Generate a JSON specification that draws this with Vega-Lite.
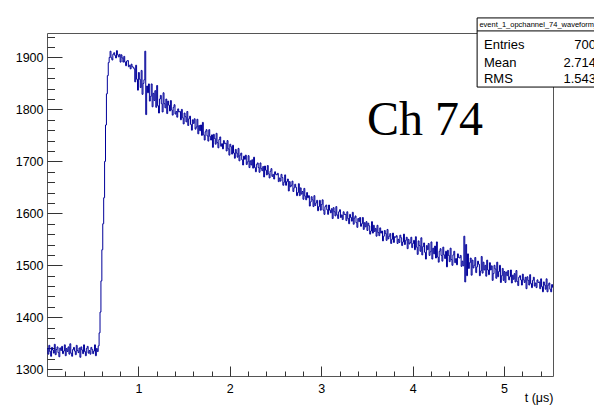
{
"$schema": "https://vega.github.io/schema/vega-lite/v6.json",
"width": 506, "height": 343,
"autosize": "none",
"padding": {"left": 47, "top": 33, "right": 41, "bottom": 31},
"background": "white",
"config": {"view": {"stroke": "#555555", "strokeWidth": 1}, "font": "Liberation Sans"},
"data": {"values": [
{"t":0.00,"v":1340},{"t":0.01,"v":1329},{"t":0.02,"v":1346},{"t":0.03,"v":1334},{"t":0.04,"v":1325},{"t":0.05,"v":1342},{"t":0.06,"v":1337},{"t":0.07,"v":1331},{"t":0.08,"v":1348},{"t":0.09,"v":1328},
{"t":0.10,"v":1338},{"t":0.11,"v":1343},{"t":0.12,"v":1332},{"t":0.13,"v":1324},{"t":0.14,"v":1341},{"t":0.15,"v":1336},{"t":0.16,"v":1344},{"t":0.17,"v":1330},{"t":0.18,"v":1335},{"t":0.19,"v":1347},
{"t":0.20,"v":1326},{"t":0.21,"v":1340},{"t":0.22,"v":1334},{"t":0.23,"v":1343},{"t":0.24,"v":1329},{"t":0.25,"v":1349},{"t":0.26,"v":1331},{"t":0.27,"v":1325},{"t":0.28,"v":1338},{"t":0.29,"v":1342},
{"t":0.30,"v":1335},{"t":0.31,"v":1328},{"t":0.32,"v":1346},{"t":0.33,"v":1336},{"t":0.34,"v":1332},{"t":0.35,"v":1341},{"t":0.36,"v":1323},{"t":0.37,"v":1343},{"t":0.38,"v":1337},{"t":0.39,"v":1330},
{"t":0.40,"v":1347},{"t":0.41,"v":1334},{"t":0.42,"v":1326},{"t":0.43,"v":1340},{"t":0.44,"v":1344},{"t":0.45,"v":1331},{"t":0.46,"v":1336},{"t":0.47,"v":1329},{"t":0.48,"v":1342},{"t":0.49,"v":1338},
{"t":0.50,"v":1330},{"t":0.51,"v":1335},{"t":0.52,"v":1347},{"t":0.53,"v":1326},{"t":0.54,"v":1340},{"t":0.55,"v":1334},{"t":0.56,"v":1345},{"t":0.57,"v":1370},{"t":0.58,"v":1410},{"t":0.59,"v":1470},
{"t":0.60,"v":1530},{"t":0.61,"v":1580},{"t":0.62,"v":1630},{"t":0.63,"v":1700},{"t":0.64,"v":1770},{"t":0.65,"v":1830},{"t":0.66,"v":1865},{"t":0.67,"v":1890},{"t":0.68,"v":1900},{"t":0.69,"v":1912},
{"t":0.70,"v":1899},{"t":0.71,"v":1895},{"t":0.72,"v":1906},{"t":0.73,"v":1909},{"t":0.74,"v":1904},{"t":0.75,"v":1899},{"t":0.76,"v":1913},{"t":0.77,"v":1905},{"t":0.78,"v":1901},{"t":0.79,"v":1906},
{"t":0.80,"v":1891},{"t":0.81,"v":1905},{"t":0.82,"v":1899},{"t":0.83,"v":1891},{"t":0.84,"v":1902},{"t":0.85,"v":1891},{"t":0.86,"v":1884},{"t":0.87,"v":1893},{"t":0.88,"v":1894},{"t":0.89,"v":1882},
{"t":0.90,"v":1885},{"t":0.91,"v":1878},{"t":0.92,"v":1887},{"t":0.93,"v":1882},{"t":0.94,"v":1881},{"t":0.95,"v":1878},{"t":0.96,"v":1853},{"t":0.97,"v":1885},{"t":0.98,"v":1858},{"t":0.99,"v":1837},
{"t":1.00,"v":1871},{"t":1.01,"v":1858},{"t":1.02,"v":1842},{"t":1.03,"v":1875},{"t":1.04,"v":1829},{"t":1.05,"v":1850},{"t":1.06,"v":1857},{"t":1.07,"v":1912},{"t":1.08,"v":1790},{"t":1.09,"v":1845},
{"t":1.10,"v":1832},{"t":1.11,"v":1849},{"t":1.12,"v":1816},{"t":1.13,"v":1825},{"t":1.14,"v":1849},{"t":1.15,"v":1805},{"t":1.16,"v":1831},{"t":1.17,"v":1817},{"t":1.18,"v":1836},{"t":1.19,"v":1804},
{"t":1.20,"v":1846},{"t":1.21,"v":1807},{"t":1.22,"v":1793},{"t":1.23,"v":1820},{"t":1.24,"v":1827},{"t":1.25,"v":1811},{"t":1.26,"v":1795},{"t":1.27,"v":1832},{"t":1.28,"v":1811},{"t":1.29,"v":1803},
{"t":1.30,"v":1820},{"t":1.31,"v":1792},{"t":1.32,"v":1816},{"t":1.33,"v":1808},{"t":1.34,"v":1797},{"t":1.35,"v":1817},{"t":1.36,"v":1799},{"t":1.37,"v":1789},{"t":1.38,"v":1804},{"t":1.39,"v":1809},
{"t":1.40,"v":1791},{"t":1.41,"v":1796},{"t":1.42,"v":1785},{"t":1.43,"v":1801},{"t":1.44,"v":1795},{"t":1.45,"v":1796},{"t":1.46,"v":1780},{"t":1.47,"v":1800},{"t":1.48,"v":1784},{"t":1.49,"v":1772},
{"t":1.50,"v":1793},{"t":1.51,"v":1786},{"t":1.52,"v":1776},{"t":1.53,"v":1796},{"t":1.54,"v":1769},{"t":1.55,"v":1782},{"t":1.56,"v":1787},{"t":1.57,"v":1771},{"t":1.58,"v":1760},{"t":1.59,"v":1780},
{"t":1.60,"v":1773},{"t":1.61,"v":1782},{"t":1.62,"v":1762},{"t":1.63,"v":1766},{"t":1.64,"v":1781},{"t":1.65,"v":1753},{"t":1.66,"v":1769},{"t":1.67,"v":1759},{"t":1.68,"v":1770},{"t":1.69,"v":1750},
{"t":1.70,"v":1775},{"t":1.71,"v":1751},{"t":1.72,"v":1741},{"t":1.73,"v":1757},{"t":1.74,"v":1761},{"t":1.75,"v":1749},{"t":1.76,"v":1739},{"t":1.77,"v":1761},{"t":1.78,"v":1748},{"t":1.79,"v":1741},
{"t":1.80,"v":1751},{"t":1.81,"v":1727},{"t":1.82,"v":1752},{"t":1.83,"v":1744},{"t":1.84,"v":1733},{"t":1.85,"v":1754},{"t":1.86,"v":1736},{"t":1.87,"v":1726},{"t":1.88,"v":1742},{"t":1.89,"v":1747},
{"t":1.90,"v":1729},{"t":1.91,"v":1734},{"t":1.92,"v":1724},{"t":1.93,"v":1740},{"t":1.94,"v":1734},{"t":1.95,"v":1735},{"t":1.96,"v":1720},{"t":1.97,"v":1740},{"t":1.98,"v":1724},{"t":1.99,"v":1712},
{"t":2.00,"v":1733},{"t":2.01,"v":1728},{"t":2.02,"v":1714},{"t":2.03,"v":1731},{"t":2.04,"v":1716},{"t":2.05,"v":1706},{"t":2.06,"v":1723},{"t":2.07,"v":1716},{"t":2.08,"v":1708},{"t":2.09,"v":1725},
{"t":2.10,"v":1701},{"t":2.11,"v":1712},{"t":2.12,"v":1716},{"t":2.13,"v":1703},{"t":2.14,"v":1693},{"t":2.15,"v":1710},{"t":2.16,"v":1704},{"t":2.17,"v":1712},{"t":2.18,"v":1694},{"t":2.19,"v":1699},
{"t":2.20,"v":1711},{"t":2.21,"v":1688},{"t":2.22,"v":1701},{"t":2.23,"v":1693},{"t":2.24,"v":1703},{"t":2.25,"v":1687},{"t":2.26,"v":1708},{"t":2.27,"v":1688},{"t":2.28,"v":1680},{"t":2.29,"v":1694},
{"t":2.30,"v":1697},{"t":2.31,"v":1688},{"t":2.32,"v":1679},{"t":2.33,"v":1697},{"t":2.34,"v":1686},{"t":2.35,"v":1682},{"t":2.36,"v":1690},{"t":2.37,"v":1670},{"t":2.38,"v":1691},{"t":2.39,"v":1683},
{"t":2.40,"v":1674},{"t":2.41,"v":1692},{"t":2.42,"v":1676},{"t":2.43,"v":1668},{"t":2.44,"v":1681},{"t":2.45,"v":1686},{"t":2.46,"v":1671},{"t":2.47,"v":1675},{"t":2.48,"v":1666},{"t":2.49,"v":1680},
{"t":2.50,"v":1675},{"t":2.51,"v":1674},{"t":2.52,"v":1677},{"t":2.53,"v":1661},{"t":2.54,"v":1668},{"t":2.55,"v":1662},{"t":2.56,"v":1675},{"t":2.57,"v":1669},{"t":2.58,"v":1654},{"t":2.59,"v":1660},
{"t":2.60,"v":1674},{"t":2.61,"v":1654},{"t":2.62,"v":1661},{"t":2.63,"v":1666},{"t":2.64,"v":1643},{"t":2.65,"v":1661},{"t":2.66,"v":1651},{"t":2.67,"v":1654},{"t":2.68,"v":1662},{"t":2.69,"v":1642},
{"t":2.70,"v":1649},{"t":2.71,"v":1656},{"t":2.72,"v":1650},{"t":2.73,"v":1634},{"t":2.74,"v":1640},{"t":2.75,"v":1657},{"t":2.76,"v":1634},{"t":2.77,"v":1649},{"t":2.78,"v":1637},{"t":2.79,"v":1642},
{"t":2.80,"v":1627},{"t":2.81,"v":1648},{"t":2.82,"v":1633},{"t":2.83,"v":1626},{"t":2.84,"v":1640},{"t":2.85,"v":1630},{"t":2.86,"v":1634},{"t":2.87,"v":1614},{"t":2.88,"v":1622},{"t":2.89,"v":1632},
{"t":2.90,"v":1626},{"t":2.91,"v":1613},{"t":2.92,"v":1634},{"t":2.93,"v":1615},{"t":2.94,"v":1620},{"t":2.95,"v":1625},{"t":2.96,"v":1605},{"t":2.97,"v":1613},{"t":2.98,"v":1625},{"t":2.99,"v":1606},
{"t":3.00,"v":1617},{"t":3.01,"v":1626},{"t":3.02,"v":1606},{"t":3.03,"v":1598},{"t":3.04,"v":1613},{"t":3.05,"v":1616},{"t":3.06,"v":1607},{"t":3.07,"v":1598},{"t":3.08,"v":1616},{"t":3.09,"v":1606},
{"t":3.10,"v":1601},{"t":3.11,"v":1609},{"t":3.12,"v":1590},{"t":3.13,"v":1611},{"t":3.14,"v":1603},{"t":3.15,"v":1595},{"t":3.16,"v":1613},{"t":3.17,"v":1597},{"t":3.18,"v":1590},{"t":3.19,"v":1603},
{"t":3.20,"v":1607},{"t":3.21,"v":1592},{"t":3.22,"v":1597},{"t":3.23,"v":1588},{"t":3.24,"v":1603},{"t":3.25,"v":1598},{"t":3.26,"v":1598},{"t":3.27,"v":1586},{"t":3.28,"v":1603},{"t":3.29,"v":1590},
{"t":3.30,"v":1580},{"t":3.31,"v":1598},{"t":3.32,"v":1592},{"t":3.33,"v":1585},{"t":3.34,"v":1602},{"t":3.35,"v":1579},{"t":3.36,"v":1591},{"t":3.37,"v":1595},{"t":3.38,"v":1582},{"t":3.39,"v":1573},
{"t":3.40,"v":1590},{"t":3.41,"v":1584},{"t":3.42,"v":1592},{"t":3.43,"v":1575},{"t":3.44,"v":1580},{"t":3.45,"v":1592},{"t":3.46,"v":1569},{"t":3.47,"v":1582},{"t":3.48,"v":1574},{"t":3.49,"v":1584},
{"t":3.50,"v":1567},{"t":3.51,"v":1581},{"t":3.52,"v":1576},{"t":3.53,"v":1560},{"t":3.54,"v":1566},{"t":3.55,"v":1584},{"t":3.56,"v":1562},{"t":3.57,"v":1577},{"t":3.58,"v":1565},{"t":3.59,"v":1571},
{"t":3.60,"v":1556},{"t":3.61,"v":1577},{"t":3.62,"v":1563},{"t":3.63,"v":1557},{"t":3.64,"v":1572},{"t":3.65,"v":1562},{"t":3.66,"v":1566},{"t":3.67,"v":1547},{"t":3.68,"v":1556},{"t":3.69,"v":1567},
{"t":3.70,"v":1561},{"t":3.71,"v":1548},{"t":3.72,"v":1569},{"t":3.73,"v":1551},{"t":3.74,"v":1556},{"t":3.75,"v":1561},{"t":3.76,"v":1542},{"t":3.77,"v":1550},{"t":3.78,"v":1562},{"t":3.79,"v":1544},
{"t":3.80,"v":1555},{"t":3.81,"v":1554},{"t":3.82,"v":1557},{"t":3.83,"v":1542},{"t":3.84,"v":1550},{"t":3.85,"v":1544},{"t":3.86,"v":1558},{"t":3.87,"v":1553},{"t":3.88,"v":1538},{"t":3.89,"v":1545},
{"t":3.90,"v":1560},{"t":3.91,"v":1540},{"t":3.92,"v":1548},{"t":3.93,"v":1554},{"t":3.94,"v":1532},{"t":3.95,"v":1550},{"t":3.96,"v":1541},{"t":3.97,"v":1544},{"t":3.98,"v":1554},{"t":3.99,"v":1534},
{"t":4.00,"v":1542},{"t":4.01,"v":1548},{"t":4.02,"v":1530},{"t":4.03,"v":1555},{"t":4.04,"v":1535},{"t":4.05,"v":1521},{"t":4.06,"v":1547},{"t":4.07,"v":1538},{"t":4.08,"v":1527},{"t":4.09,"v":1553},
{"t":4.10,"v":1520},{"t":4.11,"v":1536},{"t":4.12,"v":1543},{"t":4.13,"v":1525},{"t":4.14,"v":1512},{"t":4.15,"v":1538},{"t":4.16,"v":1530},{"t":4.17,"v":1542},{"t":4.18,"v":1519},{"t":4.19,"v":1526},
{"t":4.20,"v":1545},{"t":4.21,"v":1512},{"t":4.22,"v":1533},{"t":4.23,"v":1522},{"t":4.24,"v":1537},{"t":4.25,"v":1514},{"t":4.26,"v":1545},{"t":4.27,"v":1516},{"t":4.28,"v":1506},{"t":4.29,"v":1527},
{"t":4.30,"v":1532},{"t":4.31,"v":1519},{"t":4.32,"v":1508},{"t":4.33,"v":1535},{"t":4.34,"v":1520},{"t":4.35,"v":1513},{"t":4.36,"v":1527},{"t":4.37,"v":1497},{"t":4.38,"v":1529},{"t":4.39,"v":1519},
{"t":4.40,"v":1507},{"t":4.41,"v":1533},{"t":4.42,"v":1511},{"t":4.43,"v":1500},{"t":4.44,"v":1520},{"t":4.45,"v":1527},{"t":4.46,"v":1505},{"t":4.47,"v":1513},{"t":4.48,"v":1501},{"t":4.49,"v":1522},
{"t":4.50,"v":1515},{"t":4.51,"v":1514},{"t":4.52,"v":1519},{"t":4.53,"v":1498},{"t":4.54,"v":1508},{"t":4.55,"v":1499},{"t":4.56,"v":1556},{"t":4.57,"v":1468},{"t":4.58,"v":1540},{"t":4.59,"v":1480},
{"t":4.60,"v":1522},{"t":4.61,"v":1494},{"t":4.62,"v":1505},{"t":4.63,"v":1514},{"t":4.64,"v":1481},{"t":4.65,"v":1510},{"t":4.66,"v":1495},{"t":4.67,"v":1500},{"t":4.68,"v":1515},{"t":4.69,"v":1486},
{"t":4.70,"v":1497},{"t":4.71,"v":1508},{"t":4.72,"v":1502},{"t":4.73,"v":1480},{"t":4.74,"v":1489},{"t":4.75,"v":1517},{"t":4.76,"v":1485},{"t":4.77,"v":1506},{"t":4.78,"v":1491},{"t":4.79,"v":1500},
{"t":4.80,"v":1479},{"t":4.81,"v":1510},{"t":4.82,"v":1491},{"t":4.83,"v":1482},{"t":4.84,"v":1505},{"t":4.85,"v":1491},{"t":4.86,"v":1499},{"t":4.87,"v":1471},{"t":4.88,"v":1484},{"t":4.89,"v":1500},
{"t":4.90,"v":1493},{"t":4.91,"v":1475},{"t":4.92,"v":1506},{"t":4.93,"v":1478},{"t":4.94,"v":1488},{"t":4.95,"v":1500},{"t":4.96,"v":1467},{"t":4.97,"v":1480},{"t":4.98,"v":1494},{"t":4.99,"v":1471},
{"t":5.00,"v":1488},{"t":5.01,"v":1467},{"t":5.02,"v":1487},{"t":5.03,"v":1480},{"t":5.04,"v":1490},{"t":5.05,"v":1472},{"t":5.06,"v":1478},{"t":5.07,"v":1491},{"t":5.08,"v":1466},{"t":5.09,"v":1481},
{"t":5.10,"v":1473},{"t":5.11,"v":1484},{"t":5.12,"v":1468},{"t":5.13,"v":1490},{"t":5.14,"v":1469},{"t":5.15,"v":1461},{"t":5.16,"v":1477},{"t":5.17,"v":1480},{"t":5.18,"v":1472},{"t":5.19,"v":1462},
{"t":5.20,"v":1483},{"t":5.21,"v":1472},{"t":5.22,"v":1467},{"t":5.23,"v":1477},{"t":5.24,"v":1455},{"t":5.25,"v":1478},{"t":5.26,"v":1471},{"t":5.27,"v":1462},{"t":5.28,"v":1482},{"t":5.29,"v":1465},
{"t":5.30,"v":1457},{"t":5.31,"v":1471},{"t":5.32,"v":1477},{"t":5.33,"v":1460},{"t":5.34,"v":1466},{"t":5.35,"v":1457},{"t":5.36,"v":1472},{"t":5.37,"v":1467},{"t":5.38,"v":1468},{"t":5.39,"v":1455},
{"t":5.40,"v":1474},{"t":5.41,"v":1459},{"t":5.42,"v":1449},{"t":5.43,"v":1468},{"t":5.44,"v":1462},{"t":5.45,"v":1454},{"t":5.46,"v":1474},{"t":5.47,"v":1449},{"t":5.48,"v":1462},{"t":5.49,"v":1466},
{"t":5.50,"v":1454},{"t":5.51,"v":1449},{"t":5.52,"v":1463},{"t":5.53,"v":1457}
]},
"resolve": {"axis": {"x": "independent", "y": "independent"}},
"layer": [
{
"mark": {"type": "line", "interpolate": "step-after", "color": "#000099", "strokeWidth": 1},
"encoding": {
"x": {"field": "t", "type": "quantitative", "scale": {"domain": [0, 5.535], "nice": false, "zero": false},
"axis": {"orient": "bottom", "values": [1, 2, 3, 4, 5], "format": "d", "tickSize": -10, "tickColor": "#333333", "labelPadding": 16, "labelFontSize": 12.5, "labelColor": "#000000", "labelFont": "Liberation Sans", "domain": false, "grid": false, "title": "t (μs)", "titleAnchor": "end", "titleFont": "Liberation Sans", "titleFontSize": 12.5, "titleFontWeight": "normal", "titleColor": "#000000", "titlePadding": -3}},
"y": {"field": "v", "type": "quantitative", "scale": {"domain": [1287, 1947], "nice": false, "zero": false},
"axis": {"orient": "left", "values": [1300, 1400, 1500, 1600, 1700, 1800, 1900], "format": "d", "tickSize": -15, "tickColor": "#333333", "labelPadding": 19, "labelFontSize": 12.5, "labelColor": "#000000", "labelFont": "Liberation Sans", "domain": false, "grid": false, "title": null}}
}
},
{
"mark": {"type": "line", "opacity": 0},
"encoding": {
"x": {"field": "t", "type": "quantitative", "scale": {"domain": [0, 5.535], "nice": false, "zero": false},
"axis": {"orient": "bottom", "values": [0.2, 0.4, 0.6, 0.8, 1.2, 1.4, 1.6, 1.8, 2.2, 2.4, 2.6, 2.8, 3.2, 3.4, 3.6, 3.8, 4.2, 4.4, 4.6, 4.8, 5.2, 5.4], "tickSize": -5, "tickColor": "#333333", "labels": false, "domain": false, "grid": false, "title": null}},
"y": {"field": "v", "type": "quantitative", "scale": {"domain": [1287, 1947], "nice": false, "zero": false},
"axis": {"orient": "left", "values": [1300, 1320, 1340, 1360, 1380, 1420, 1440, 1460, 1480, 1520, 1540, 1560, 1580, 1620, 1640, 1660, 1680, 1720, 1740, 1760, 1780, 1820, 1840, 1860, 1880, 1920, 1940], "tickSize": -7.5, "tickColor": "#333333", "labels": false, "domain": false, "grid": false, "title": null}}
}
},
{
"data": {"values": [{}]},
"mark": {"type": "text", "text": "Ch 74", "font": "Liberation Serif", "fontSize": 48, "align": "left", "baseline": "alphabetic", "color": "#000000"},
"encoding": {
"x": {"datum": 3.5, "type": "quantitative", "scale": {"domain": [0, 5.535], "nice": false, "zero": false}, "axis": null},
"y": {"datum": 1751, "type": "quantitative", "scale": {"domain": [1287, 1947], "nice": false, "zero": false}, "axis": null}
}
},
{
"data": {"values": [{}]},
"mark": {"type": "rect", "fill": "#ffffff", "stroke": "#000000", "strokeWidth": 1, "clip": false},
"encoding": {
"x": {"datum": 4.705, "type": "quantitative", "scale": {"domain": [0, 5.535], "nice": false, "zero": false}, "axis": null},
"x2": {"datum": 6.8},
"y": {"datum": 1976, "type": "quantitative", "scale": {"domain": [1287, 1947], "nice": false, "zero": false}, "axis": null},
"y2": {"datum": 1843}
}
},
{
"data": {"values": [{}]},
"mark": {"type": "rule", "color": "#000000", "strokeWidth": 1},
"encoding": {
"x": {"datum": 4.705, "type": "quantitative", "scale": {"domain": [0, 5.535], "nice": false, "zero": false}, "axis": null},
"x2": {"datum": 6.8},
"y": {"datum": 1951, "type": "quantitative", "scale": {"domain": [1287, 1947], "nice": false, "zero": false}, "axis": null}
}
},
{
"data": {"values": [{}]},
"mark": {"type": "text", "text": "event_1_opchannel_74_waveform_", "font": "Liberation Sans", "fontSize": 7.5, "align": "left", "baseline": "middle", "color": "#000000"},
"encoding": {
"x": {"datum": 4.73, "type": "quantitative", "scale": {"domain": [0, 5.535], "nice": false, "zero": false}, "axis": null},
"y": {"datum": 1963, "type": "quantitative", "scale": {"domain": [1287, 1947], "nice": false, "zero": false}, "axis": null}
}
},
{
"data": {"values": [{}]},
"mark": {"type": "text", "text": "Entries", "font": "Liberation Sans", "fontSize": 13, "align": "left", "baseline": "middle", "color": "#000000"},
"encoding": {
"x": {"datum": 4.78, "type": "quantitative", "scale": {"domain": [0, 5.535], "nice": false, "zero": false}, "axis": null},
"y": {"datum": 1924, "type": "quantitative", "scale": {"domain": [1287, 1947], "nice": false, "zero": false}, "axis": null}
}
},
{
"data": {"values": [{}]},
"mark": {"type": "text", "text": "Mean", "font": "Liberation Sans", "fontSize": 13, "align": "left", "baseline": "middle", "color": "#000000"},
"encoding": {
"x": {"datum": 4.78, "type": "quantitative", "scale": {"domain": [0, 5.535], "nice": false, "zero": false}, "axis": null},
"y": {"datum": 1889, "type": "quantitative", "scale": {"domain": [1287, 1947], "nice": false, "zero": false}, "axis": null}
}
},
{
"data": {"values": [{}]},
"mark": {"type": "text", "text": "RMS", "font": "Liberation Sans", "fontSize": 13, "align": "left", "baseline": "middle", "color": "#000000"},
"encoding": {
"x": {"datum": 4.78, "type": "quantitative", "scale": {"domain": [0, 5.535], "nice": false, "zero": false}, "axis": null},
"y": {"datum": 1858, "type": "quantitative", "scale": {"domain": [1287, 1947], "nice": false, "zero": false}, "axis": null}
}
},
{
"data": {"values": [{}]},
"mark": {"type": "text", "text": "700", "font": "Liberation Sans", "fontSize": 13, "align": "right", "baseline": "middle", "color": "#000000"},
"encoding": {
"x": {"datum": 6.005, "type": "quantitative", "scale": {"domain": [0, 5.535], "nice": false, "zero": false}, "axis": null},
"y": {"datum": 1924, "type": "quantitative", "scale": {"domain": [1287, 1947], "nice": false, "zero": false}, "axis": null}
}
},
{
"data": {"values": [{}]},
"mark": {"type": "text", "text": "2.714", "font": "Liberation Sans", "fontSize": 13, "align": "right", "baseline": "middle", "color": "#000000"},
"encoding": {
"x": {"datum": 6.005, "type": "quantitative", "scale": {"domain": [0, 5.535], "nice": false, "zero": false}, "axis": null},
"y": {"datum": 1889, "type": "quantitative", "scale": {"domain": [1287, 1947], "nice": false, "zero": false}, "axis": null}
}
},
{
"data": {"values": [{}]},
"mark": {"type": "text", "text": "1.543", "font": "Liberation Sans", "fontSize": 13, "align": "right", "baseline": "middle", "color": "#000000"},
"encoding": {
"x": {"datum": 6.005, "type": "quantitative", "scale": {"domain": [0, 5.535], "nice": false, "zero": false}, "axis": null},
"y": {"datum": 1858, "type": "quantitative", "scale": {"domain": [1287, 1947], "nice": false, "zero": false}, "axis": null}
}
}
]
}
